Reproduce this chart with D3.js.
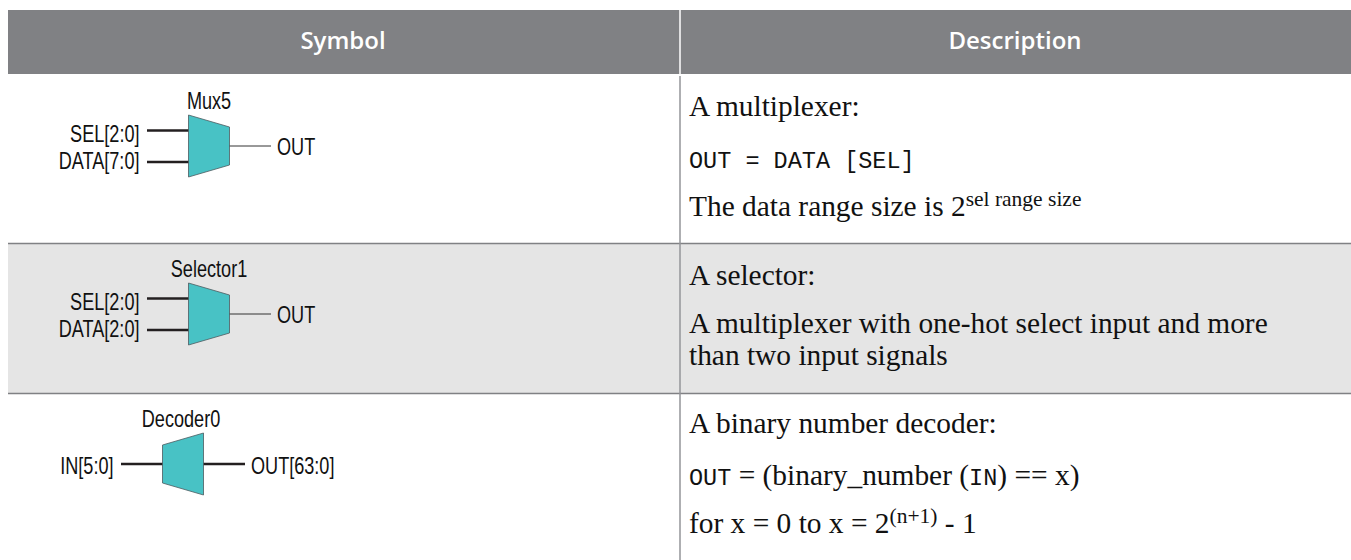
<!DOCTYPE html>
<html>
  <meta charset="utf-8" />
  <script src="https://cdn.jsdelivr.net/npm/d3@7/dist/d3.min.js"></script>
  <style>
    html, body { margin: 0; padding: 0; background: #fff; overflow: hidden; }
    .head { font-family: "Open Sans", sans-serif; font-weight: 600; font-size: 24px; fill: #fff; text-anchor: middle; }
    .sym { font-family: "Liberation Sans", sans-serif; font-size: 23.5px; fill: #111; }
    .desc { font-family: "Liberation Serif", serif; font-size: 29.4px; fill: #111; }
    .mono { font-family: "Liberation Mono", monospace; font-size: 23.5px; }
  </style>
  <body>
    <svg id="chart" width="1351" height="560"></svg>
  </body>
  <script>
    var columns = ['Symbol', 'Description'];
    var symbols = ['Mux5', 'Selector1', 'Decoder0'];
    var inputs = [['SEL[2:0]', 'DATA[7:0]'], ['SEL[2:0]', 'DATA[2:0]'], ['IN[5:0]']];
    var outputs = ['OUT', 'OUT', 'OUT[63:0]'];
    var flipped = [false, false, true];

    // each line is a list of [text, kind] runs: s serif, m mono, u superscript
    var descriptions = [
      [
        [['A multiplexer:', 's']],
        [['OUT = DATA [SEL]', 'm']],
        [['The data range size is 2', 's'], ['sel range size', 'u']],
      ],
      [
        [['A selector:', 's']],
        [['A multiplexer with one-hot select input and more', 's']],
        [['than two input signals', 's']],
      ],
      [
        [['A binary number decoder:', 's']],
        [['OUT', 'm'], [' = (binary_number (', 's'], ['IN', 'm'], [') == x)', 's']],
        [['for x = 0 to x = 2', 's'], ['(n+1)', 'u'], [' - 1', 's']],
      ],
    ];

    var width = 1351,
      height = 560,
      headTop = 10,
      headBottom = 74,
      left = 8,
      divider = 680,
      narrow = 0.77; // symbol labels are a condensed face

    var svg = d3.select('#chart');

    var x_scale = d3.scaleOrdinal().domain(columns).range([343, 1015]);
    var row_top = d3.scaleOrdinal().domain(symbols).range([74, 243.5, 393.5]);
    var row_bottom = d3.scaleOrdinal().domain(symbols).range([243.5, 393.5, 560]);
    var sym_y = d3.scaleOrdinal().domain(symbols).range([146, 314, 464]);
    var sym_x = d3.scaleOrdinal().domain(symbols).range([209, 209, 183]);
    var line_y = d3.scaleOrdinal().domain(symbols).range([[116, 168, 216], [285, 333, 365], [433, 485, 533]]);

    // second row has the grey band
    svg.append('rect').attr('x', left).attr('y', row_top('Selector1'))
      .attr('width', width - left).attr('height', row_bottom('Selector1') - row_top('Selector1'))
      .attr('fill', '#e5e5e5');

    svg.append('rect').attr('x', left).attr('y', headTop)
      .attr('width', width - left).attr('height', headBottom - headTop)
      .attr('fill', '#808184');

    svg.selectAll('.head').data(columns).enter().append('text')
      .attr('class', 'head')
      .attr('x', function (d) { return x_scale(d); })
      .attr('y', 49)
      .text(function (d) { return d; });

    svg.selectAll('.rule').data(symbols.slice(1)).enter().append('line')
      .attr('class', 'rule')
      .attr('x1', left).attr('x2', width)
      .attr('y1', function (d) { return row_top(d); })
      .attr('y2', function (d) { return row_top(d); })
      .attr('stroke', '#808184').attr('stroke-width', 1.3);

    svg.append('line').attr('x1', divider).attr('x2', divider).attr('y1', headTop).attr('y2', headBottom)
      .attr('stroke', '#fff').attr('stroke-width', 1.5);
    svg.append('line').attr('x1', divider).attr('x2', divider).attr('y1', 76).attr('y2', height)
      .attr('stroke', '#939598').attr('stroke-width', 1.5);

    var outline = d3.line().curve(d3.curveLinearClosed);

    function label(g, text, x, y, anchor) {
      g.append('text').attr('class', 'sym').attr('text-anchor', anchor)
        .attr('transform', 'translate(' + x + ',' + y + ') scale(' + narrow + ',1)')
        .text(text);
    }

    symbols.forEach(function (name, i) {
      var g = svg.append('g').attr('transform', 'translate(' + sym_x(name) + ',' + sym_y(name) + ')');
      var s = flipped[i] ? -1 : 1;

      label(g, name, flipped[i] ? -2 : 0, -37, 'middle');

      inputs[i].forEach(function (text, j) {
        var single = inputs[i].length === 1;
        var dy = single ? 0 : j === 0 ? -15.5 : 16;
        g.append('line').attr('x1', -62).attr('x2', -20).attr('y1', dy).attr('y2', dy)
          .attr('stroke', '#231f20').attr('stroke-width', 2.6);
        label(g, text, -69.5, single ? 10 : j === 0 ? -4.4 : 23.4, 'end');
      });

      g.append('line').attr('x1', 20).attr('x2', 62).attr('y1', 0).attr('y2', 0)
        .attr('stroke', flipped[i] ? '#231f20' : '#333').attr('stroke-width', flipped[i] ? 2.6 : 1);
      label(g, outputs[i], 68, flipped[i] ? 10 : 9, 'start');

      g.append('path')
        .attr('d', outline([[-20.5 * s, -31], [20.5 * s, -19], [20.5 * s, 19], [-20.5 * s, 31]]))
        .attr('fill', '#48c2c5').attr('stroke', '#4d5a60').attr('stroke-width', 0.8);

      var ys = line_y(name);
      descriptions[i].forEach(function (runs, k) {
        var t = svg.append('text').attr('class', 'desc').attr('x', 689).attr('y', ys[k]);
        var raised = false;
        runs.forEach(function (run) {
          var ts = t.append('tspan').text(run[0]);
          if (run[1] === 'm') ts.attr('class', 'mono');
          if (run[1] === 'u') {
            ts.attr('dy', -10).style('font-size', '21.5px');
            raised = true;
          } else if (raised) {
            ts.attr('dy', 10);
            raised = false;
          }
        });
      });
    });
  </script>
</html>
